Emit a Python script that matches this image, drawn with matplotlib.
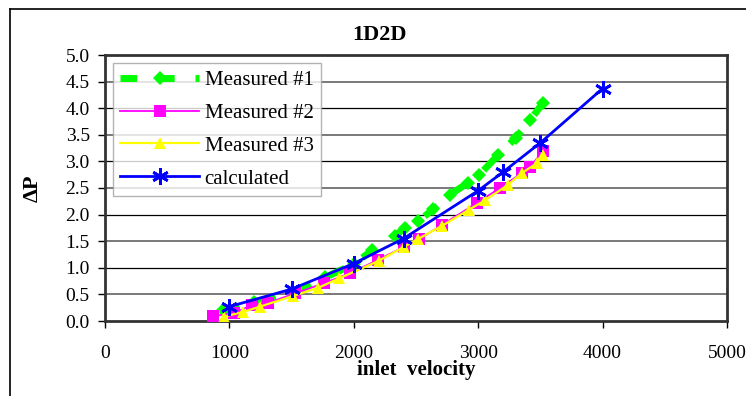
import matplotlib
matplotlib.use("Agg")
import matplotlib.pyplot as plt
from matplotlib.lines import Line2D

# ---- data ----
m1_x = [950, 1200, 1540, 1770, 2000, 2150, 2330, 2410, 2520, 2640, 2770, 2920, 3010, 3160, 3300, 3420, 3520]
m1_y = [0.20, 0.35, 0.55, 0.82, 1.07, 1.33, 1.60, 1.75, 1.88, 2.10, 2.37, 2.60, 2.75, 3.12, 3.44, 3.78, 4.10]

m2_x = [870, 1040, 1180, 1310, 1530, 1760, 1970, 2195, 2400, 2525, 2705, 2990, 3175, 3350, 3420, 3520]
m2_y = [0.09, 0.15, 0.30, 0.34, 0.52, 0.71, 0.90, 1.15, 1.39, 1.54, 1.80, 2.22, 2.50, 2.78, 2.90, 3.20]

m3_x = [955, 1110, 1245, 1510, 1710, 1880, 2200, 2400, 2515, 2710, 2925, 3055, 3240, 3350, 3475, 3520]
m3_y = [0.08, 0.17, 0.27, 0.47, 0.62, 0.80, 1.13, 1.39, 1.54, 1.79, 2.09, 2.27, 2.56, 2.78, 2.97, 3.12]

calc_x = [1000, 1500, 2000, 2400, 3000, 3200, 3500, 4000]
calc_y = [0.27, 0.60, 1.08, 1.55, 2.45, 2.80, 3.35, 4.37]

labels = ["Measured #1", "Measured #2", "Measured #3", "calculated"]
x_ticks = [0, 1000, 2000, 3000, 4000, 5000]
y_ticks = [0.0, 0.5, 1.0, 1.5, 2.0, 2.5, 3.0, 3.5, 4.0, 4.5, 5.0]

plt.rcParams['font.family'] = ['Liberation Serif', 'DejaVu Serif']

W, H = 746, 396
fig = plt.figure(figsize=(W / 100, H / 100), dpi=100)
ax = fig.add_axes([105 / W, 1 - 321 / H, (727 - 105) / W, (321 - 55) / H])

# outer frame (left & top visible)
fig.add_artist(Line2D([10 / W, 10 / W], [0, 1 - 9 / H], transform=fig.transFigure, color='black', lw=1.2))
fig.add_artist(Line2D([10 / W, 1], [1 - 9 / H, 1 - 9 / H], transform=fig.transFigure, color='black', lw=1.2))

for i, y in enumerate(y_ticks[1:-1]):
    ax.axhline(y, color='black' if i % 2 else '#6e6e6e', lw=0.9 if i % 2 else 1.3, zorder=1)

ax.plot(m1_x, m1_y, color='#00ff00', lw=5, linestyle=(0, (2.4, 3)), marker='D', ms=7,
        markeredgewidth=0, label=labels[0], zorder=2)
ax.plot(m2_x, m2_y, color='#ff00ff', lw=1.3, marker='s', ms=9, markeredgewidth=0,
        label=labels[1], zorder=3)
ax.plot(m3_x, m3_y, color='#ffff00', lw=1.6, marker='^', ms=9, markeredgewidth=0,
        label=labels[2], zorder=4)
ax.plot(calc_x, calc_y, color='#0000ff', lw=2.0, marker=(6, 2, 0), ms=12, markeredgewidth=2.0,
        markeredgecolor='#0000ff', label=labels[3], zorder=5)

ax.set_xlim(0, 5000)
ax.set_ylim(0, 5)
ax.set_xticks(x_ticks)
ax.set_yticks(y_ticks)
ax.set_xticklabels([str(v) for v in x_ticks])
ax.set_yticklabels([f"{v:.1f}" for v in y_ticks])
ax.tick_params(axis='both', direction='out', length=5, width=1, labelsize=14, colors='black')
ax.tick_params(axis='x', pad=12)
ax.tick_params(axis='y', pad=6)
for s in ax.spines.values():
    s.set_linewidth(2.0)
    s.set_color('#333333')

ax.set_xlabel("inlet  velocity", fontsize=15, fontweight='bold', labelpad=-1)
ax.set_ylabel("ΔP", fontsize=16, fontweight='bold', labelpad=16)
fig.text(380 / W, 1 - 35 / H, "1D2D", ha='center', va='center', fontsize=16, fontweight='bold')

leg = ax.legend(loc='upper left', bbox_to_anchor=((113 - 105) / 622, 1 - (63 - 55) / 266),
                fontsize=15, frameon=True, fancybox=False, edgecolor='#a0a0a0',
                handlelength=3.8, borderaxespad=0, borderpad=0.35, labelspacing=0.64,
                handletextpad=0.25)
leg.get_frame().set_linewidth(1.0)

fig.savefig("out.png", dpi=100)
